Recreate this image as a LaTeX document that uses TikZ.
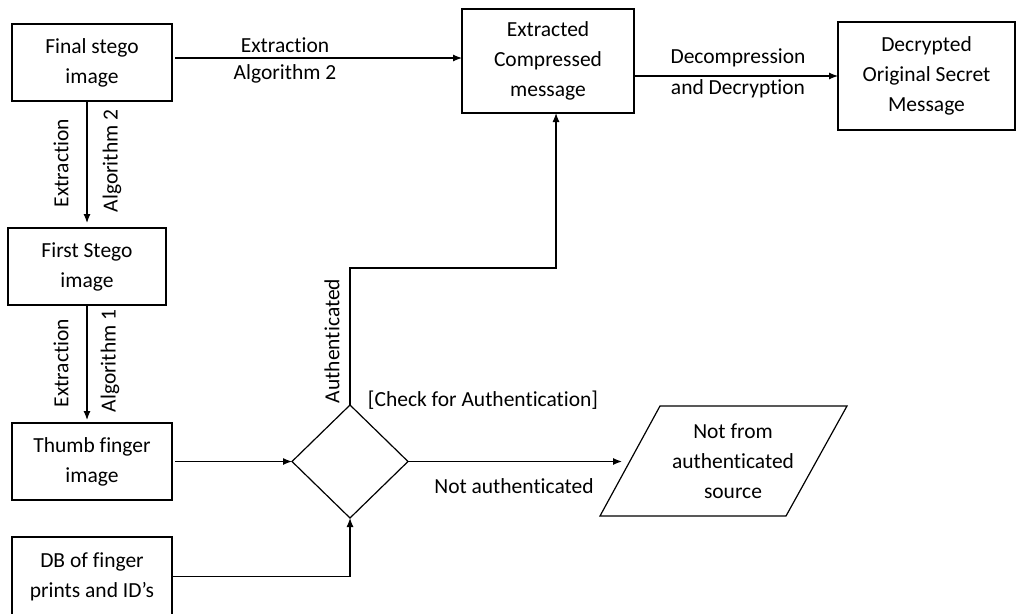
\documentclass[tikz,border=0pt]{standalone}
\usepackage{fontspec}
\setmainfont{Carlito}[Ligatures=NoCommon]
\usetikzlibrary{arrows.meta,shapes.geometric}
\begin{document}
\begin{tikzpicture}[x=1pt,y=-1pt,
  font=\fontsize{21.5}{30}\selectfont,
  every node/.style={inner sep=0pt,outer sep=0pt},
  box/.style={draw,line width=1.2pt,align=center},
  lbl/.style={align=center},
  arr/.style={line width=1.2pt,-{Latex[length=9pt,width=7pt]}},
  link/.style={line width=1.2pt}]
\useasboundingbox (0,0) rectangle (1017,613);

% process boxes
\node[box,minimum width=160pt,minimum height=77pt] (fs)  at (92,62.5)  {Final stego\\image};
\node[box,minimum width=158pt,minimum height=77pt] (fst) at (87,266.5) {First Stego\\image};
\node[box,minimum width=160pt,minimum height=77pt] (tf)  at (92,461.5) {Thumb finger\\image};
\node[box,minimum width=160pt,minimum height=79pt] (db)  at (92,576.5) {DB of finger\\prints and ID’s};
\node[box,minimum width=172pt,minimum height=104pt] (ecm) at (548,61) {Extracted\\Compressed\\message};
\node[box,minimum width=177pt,minimum height=108pt] (dec) at (926.5,76) {Decrypted\\Original Secret\\Message};

% decision
\node[draw,shape=diamond,line width=1.2pt,minimum width=116pt,minimum height=113pt] (dia) at (350,461.5) {};

% output parallelogram
\draw[line width=1.2pt] (660,406) -- (847,406) -- (786,516) -- (600,516) -- cycle;
\node[lbl] (src) at (733,461) {Not from\\authenticated\\source};
\coordinate (srcin) at (622,461.5);

% connectors
\draw[arr,shorten <=3pt] ([yshift=4.5pt]fs.east) -- ([yshift=4.5pt]fs.east -| ecm.west);
\node[lbl] (l1a) at (285,45) {Extraction};
\node[lbl] (l1b) at (285,74) {Algorithm 2};

\draw[arr] (ecm.east |- dec.west) -- (dec.west);
\node[lbl] (l2a) at (738,58) {Decompression};
\node[lbl] (l2b) at (738,89) {and Decryption};

\draw[arr,shorten >=5pt] (fst.north |- fs.south) -- (fst.north);
\node[lbl,rotate=90] (l3a) at (61,163) {Extraction};
\node[lbl,rotate=90] (l3b) at (112,161) {Algorithm 2};

\draw[arr,shorten >=3pt] (fst.south) -- (fst.south |- tf.north);
\node[lbl,rotate=90] (l4a) at (61,363) {Extraction};
\node[lbl,rotate=90] (l4b) at (110,361) {Algorithm 1};

\draw[arr,shorten <=3pt] (tf.east) -- (dia.west);
\draw[arr] (db.east) -| (dia.south);

\coordinate (authbend) at (350,268);
\draw[arr] (dia.north) -- (authbend) -| ([xshift=8pt]ecm.south);
\node[lbl,rotate=90] (l5) at (332,341) {Authenticated};
\node[lbl] (chk) at (483,400) {[Check for Authentication]};

\draw[arr] (dia.east) -- (srcin);
\node[lbl] (l6) at (514,486) {Not authenticated};
\end{tikzpicture}
\end{document}
